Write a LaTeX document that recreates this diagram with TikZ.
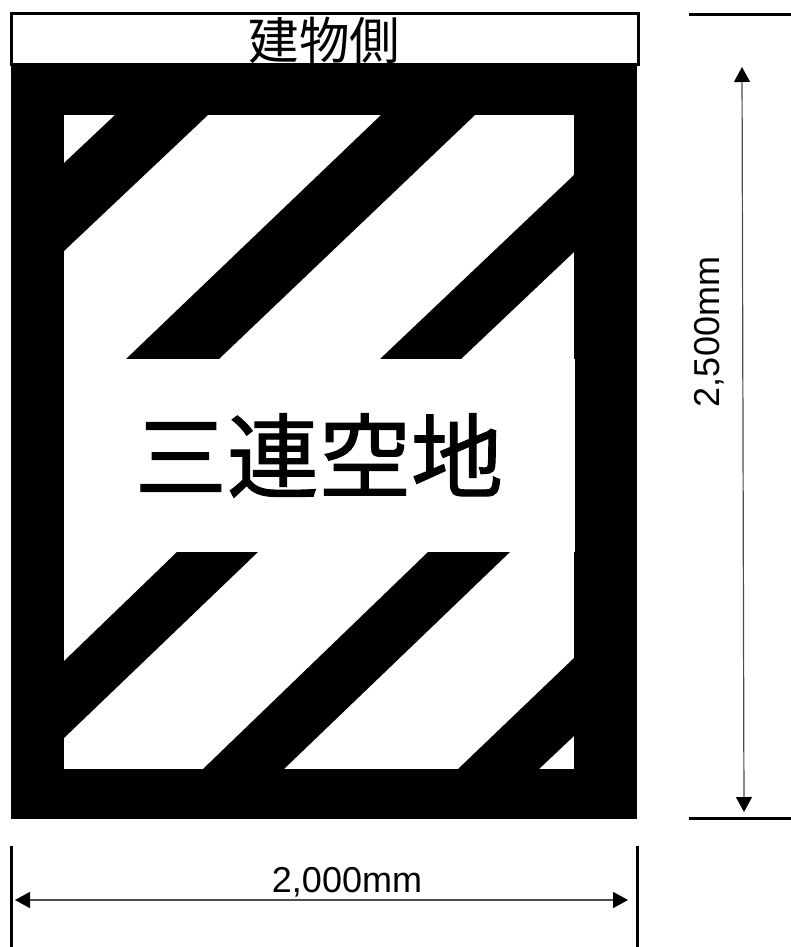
\documentclass[tikz,border=0pt]{standalone}
\usepackage{fontspec}
\setmainfont{Liberation Sans}
\newfontfamily\cjk{Noto Sans CJK JP}
\newfontfamily\cjkheavy[FakeBold=1.2]{Noto Sans CJK JP}
\usetikzlibrary{arrows.meta}

\begin{document}
\begin{tikzpicture}[
        x=1pt,
        y=-1pt,
        sidebox/.style={rectangle, draw=black, fill=white, line width=3pt, minimum width=627pt, minimum height=51pt, inner sep=0pt, text height=45pt, text depth=5pt, font=\cjk\fontsize{50.5}{50.5}\selectfont},
        namebox/.style={rectangle, fill=white, minimum width=511pt, minimum height=193pt, inner sep=0pt, font=\cjkheavy\fontsize{92}{92}\selectfont},
        dimtext/.style={font=\fontsize{36}{36}\selectfont, inner sep=0pt},
        extline/.style={line width=3pt, black},
        dimline/.style={{Triangle[length=15pt,width=16pt,color=black]}-{Triangle[length=15pt,width=16pt,color=black]}, line width=1.2pt, black!70}
    ]
        \useasboundingbox (0,0) rectangle (791,947);

        \fill[black] (10.5,64) rectangle (636.5,819);
        \fill[white] (64,115) rectangle (574,769);

        \node[sidebox] (side) at (324.5,39.5) {建物側};

        % upper stripes
        \fill[black] (115,115) -- (208,115) -- (64,251) -- (64,163) -- cycle;
        \fill[black] (381,115) -- (475,115) -- (219,359) -- (126,359) -- cycle;
        \fill[black] (574,175) -- (574,252) -- (461,359) -- (380,359) -- cycle;
        % lower stripes
        \fill[black] (177,552) -- (258,552) -- (64,738) -- (64,661) -- cycle;
        \fill[black] (428,552) -- (510,552) -- (284,769) -- (203,769) -- cycle;
        \fill[black] (574,658) -- (574,736) -- (539,769) -- (458,769) -- cycle;

        \node[namebox] (name) at (319,455.5) {三連空地};

        % width
        \coordinate (widthTopL) at (11.5,846);
        \coordinate (widthBotL) at (11.5,947);
        \coordinate (widthTopR) at (637.5,846);
        \coordinate (widthBotR) at (637.5,947);
        \coordinate (widthL) at (15,900);
        \coordinate (widthR) at (628,900);
        \draw[extline] (widthTopL) -- (widthBotL);
        \draw[extline] (widthTopR) -- (widthBotR);
        \draw[dimline, line width=1.4pt] (widthL) -- (widthR);
        \node[dimtext] (widthtext) at (347,882) {2,000mm};

        % height
        \coordinate (heightTopL) at (689,14.5);
        \coordinate (heightTopR) at (791,14.5);
        \coordinate (heightBotL) at (689,818);
        \coordinate (heightBotR) at (791,818);
        \coordinate (heightT) at (742,67);
        \coordinate (heightB) at (744,812);
        \draw[extline] (heightTopL) -- (heightTopR);
        \draw[extline] (heightBotL) -- (heightBotR);
        \draw[dimline] (heightT) -- (heightB);
        \node[dimtext, rotate=90] (heighttext) at (709,332) {2,500mm};
    \end{tikzpicture}
\end{document}
